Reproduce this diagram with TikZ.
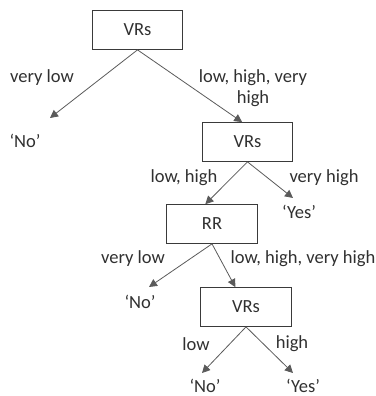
\documentclass[tikz,border=0pt]{standalone}
\usepackage{fontspec}
\setmainfont{Carlito}
\usetikzlibrary{arrows.meta,positioning}
\definecolor{treeline}{HTML}{5A5A5A}
\definecolor{treebox}{HTML}{3A3A3A}
\definecolor{treetext}{HTML}{303030}

\begin{document}
\begin{tikzpicture}[
        x=0.75pt, y=-0.75pt,
        every node/.style={text=treetext, font=\fontsize{13.9}{15.8}\selectfont},
        attr/.style={
          draw=treebox,
          line width=0.8pt,
          minimum width=68pt,
          minimum height=29pt,
          inner sep=0pt
        },
        leaf/.style={inner sep=1pt},
        edgelabel/.style={align=center, inner sep=0pt},
        arrow/.style={
          -{Triangle[length=6pt,width=6pt]},
          line width=0.6pt,
          treeline
        }
      ]
      \useasboundingbox (0,0) rectangle (375,396);

      % split nodes
      \node[attr] (vrs1) at (137.5,30) {VRs};
      \node[attr] (vrs2) at (247.5,142) {VRs};
      \node[attr] (rr) at (212,224) {RR};
      \node[attr] (vrs3) at (246,307) {VRs};

      % leaves
      \node[leaf] (no1) at (25,141) {`No'};
      \node[leaf] (yes1) at (299,212) {`Yes'};
      \node[leaf] (no2) at (140,302) {`No'};
      \node[leaf] (no3) at (205,386) {`No'};
      \node[leaf] (yes2) at (303,386) {`Yes'};

      % free arrow ends above the leaves
      \coordinate (tno1) at (50,118);
      \coordinate (tyes1) at (293,198);
      \coordinate (tno2) at (149,287);
      \coordinate (tno3) at (202,373);
      \coordinate (tyes2) at (293,373);

      \draw[arrow] (vrs1.south) -- (tno1);
      \draw[arrow] (vrs1.south) -- ([xshift=-4]vrs2.north);
      \draw[arrow] (vrs2.south) -- ([xshift=-5]rr.north);
      \draw[arrow] (vrs2.south) -- (tyes1);
      \draw[arrow] (rr.south) -- (tno2);
      \draw[arrow] (rr.south) -- ([xshift=-8]vrs3.north);
      \draw[arrow] (vrs3.south) -- (tno3);
      \draw[arrow] (vrs3.south) -- (tyes2);

      % branch labels
      \node[edgelabel] (l1) at (42,78) {very low};
      \node[edgelabel] (l2) at (253,88) {low, high, very\\high};
      \node[edgelabel] (l3) at (184,178) {low, high};
      \node[edgelabel] (l4) at (324,178) {very high};
      \node[edgelabel] (l5) at (133,259) {very low};
      \node[edgelabel] (l6) at (303,259) {low, high, very high};
      \node[edgelabel] (l7) at (196,344) {low};
      \node[edgelabel] (l8) at (292,344) {high};

      \end{tikzpicture}
\end{document}
